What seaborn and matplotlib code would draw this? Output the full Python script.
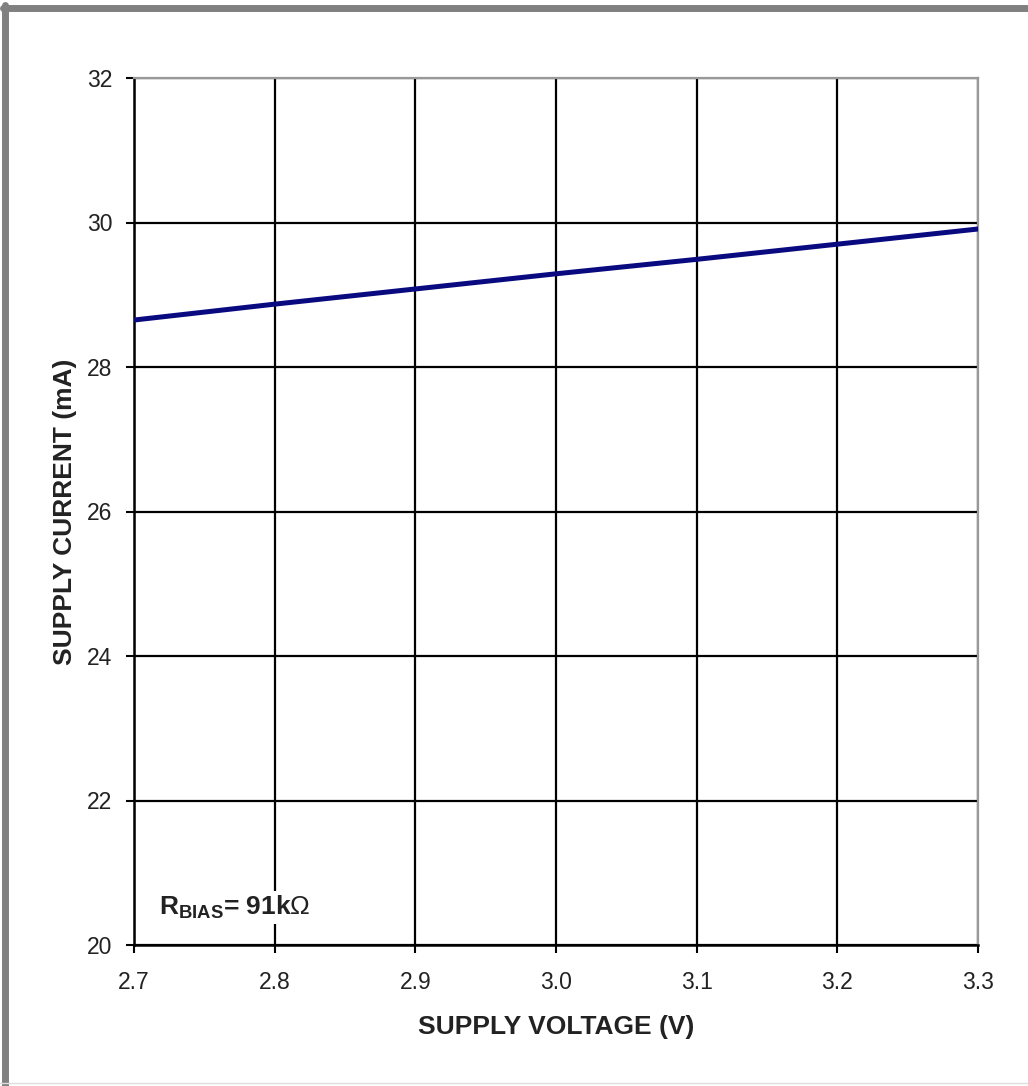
import matplotlib
matplotlib.use("Agg")
import matplotlib.pyplot as plt
import seaborn as sns
import pandas as pd
from matplotlib.lines import Line2D

voltage = [2.7, 2.8, 2.9, 3.0, 3.1, 3.2, 3.3]
current = [28.65, 28.87, 29.08, 29.29, 29.49, 29.70, 29.91]
x_ticks = [2.7, 2.8, 2.9, 3.0, 3.1, 3.2, 3.3]
x_tick_labels = ["2.7", "2.8", "2.9", "3.0", "3.1", "3.2", "3.3"]
y_ticks = [20, 22, 24, 26, 28, 30, 32]

sns.set_theme(style="white")
plt.rcParams['font.family'] = ['Liberation Sans', 'DejaVu Sans']
plt.rcParams['mathtext.fontset'] = 'custom'
plt.rcParams['mathtext.rm'] = 'Liberation Sans'
plt.rcParams['mathtext.bf'] = 'Liberation Sans:bold'

fig = plt.figure(figsize=(10.28, 10.86), dpi=100)
ax = fig.add_axes([134/1028, 1 - 945/1086, (978-134)/1028, (945-78)/1086])

df = pd.DataFrame({"V": voltage, "I": current})
sns.lineplot(data=df, x="V", y="I", ax=ax, color="#0a0a80", linewidth=3.6, zorder=5)

ax.set_xlim(2.7, 3.3)
ax.set_ylim(20, 32)
ax.set_xticks(x_ticks)
ax.set_xticklabels(x_tick_labels)
ax.set_yticks(y_ticks)
ax.grid(True, color="black", linewidth=1.6)
ax.set_axisbelow(True)

for s in ["left", "bottom"]:
    ax.spines[s].set_color("black")
    ax.spines[s].set_linewidth(1.8)
for s in ["top", "right"]:
    ax.spines[s].set_color("#999999")
    ax.spines[s].set_linewidth(1.6)

ax.tick_params(axis="both", which="major", direction="out", length=6, width=1.5,
               color="black", labelsize=16.5, labelcolor="#222222",
               bottom=True, left=True)
ax.tick_params(axis="x", pad=13)
ax.tick_params(axis="y", pad=9.5)

ax.set_xlabel("SUPPLY VOLTAGE (V)", fontsize=19, fontweight="bold", color="#222222", labelpad=15)
ax.set_ylabel("SUPPLY CURRENT (mA)", fontsize=19, fontweight="bold", color="#222222", labelpad=7.5)

ax.text(0.03, 0.043, r"$\mathbf{R_{BIAS}}$= 91k$\Omega$", transform=ax.transAxes,
        fontsize=19, fontweight="bold", color="#222222", va="center", ha="left",
        bbox=dict(facecolor="white", edgecolor="none", pad=2), zorder=6)

# figure border (left/top thick gray, bottom thin light gray)
fig.add_artist(Line2D([5/1028, 5/1028], [0, 1 - 5/1086], transform=fig.transFigure,
                      color="#808080", linewidth=5))
fig.add_artist(Line2D([3/1028, 1], [1 - 8/1086, 1 - 8/1086], transform=fig.transFigure,
                      color="#808080", linewidth=5))
fig.add_artist(Line2D([0, 1], [3/1086, 3/1086], transform=fig.transFigure,
                      color="#dddddd", linewidth=1))

fig.savefig("out.png", dpi=100)
